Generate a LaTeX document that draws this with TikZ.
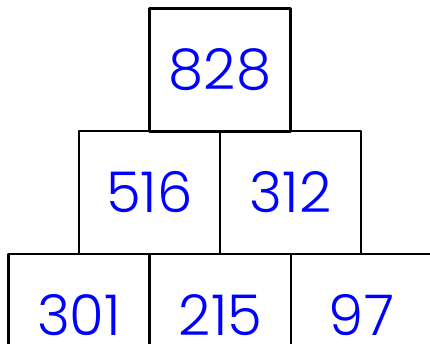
\documentclass[tikz,border=0pt]{standalone}
\usepackage{fontspec}
\setmainfont{Poppins Light}
\begin{document}
\begin{tikzpicture}[line cap=round,line join=round,
  cell/.style={draw,line width=0.65pt,inner sep=0pt,minimum width=1.41cm,minimum height=1.23cm,
    text=blue,font=\fontsize{16}{18}\selectfont}]
  \useasboundingbox (0,0) rectangle (4.30,3.44);
  \clip (0,0) rectangle (4.30,3.44);
  \node[cell] (top) at (2.20,2.74) {828};
  \node[cell] (midleft) at (1.495,1.515) {516};
  \node[cell] (midright) at (2.905,1.515) {312};
  \node[cell] (botleft) at (0.79,0.285) {301};
  \node[cell] (botmid) at (2.205,0.285) {215};
  \node[cell] (botright) at (3.615,0.285) {97};
\end{tikzpicture}
\end{document}
